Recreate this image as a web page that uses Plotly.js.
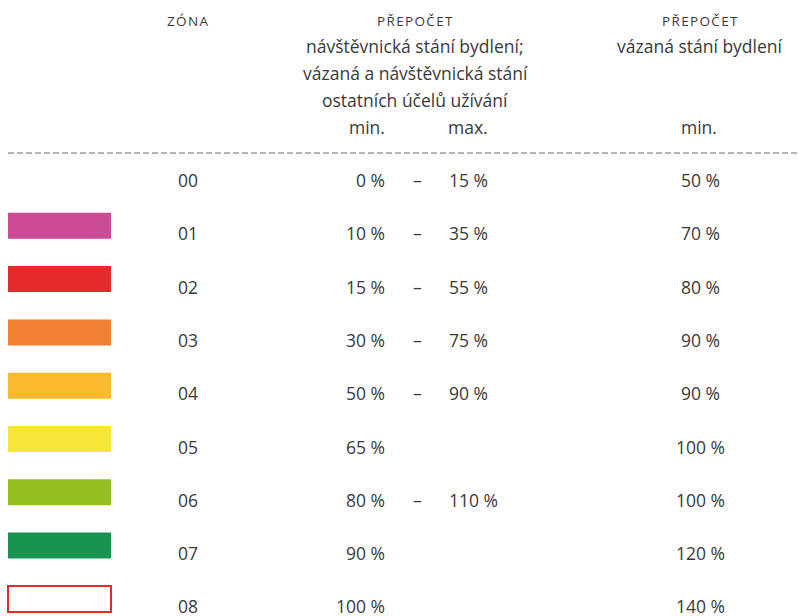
<!DOCTYPE html>
<html>
<head>
<meta charset="utf-8">
<script src="https://cdn.plot.ly/plotly-3.0.1.min.js"></script>
<style>html,body{margin:0;padding:0;background:#fff;}#chart{width:798px;height:616px;}</style>
</head>
<body>
<div id="chart"></div>
<script>
// ---- data ----
const zones = ['00','01','02','03','04','05','06','07','08'];
const minPct = [0, 10, 15, 30, 50, 65, 80, 90, 100];
const maxPct = [15, 35, 55, 75, 90, null, 110, null, null];
const boundMinPct = [50, 70, 80, 90, 90, 100, 100, 120, 140];
const zoneColors = [null, '#CB4B95', '#E52A2A', '#F18030', '#FBBA2D', '#F5E637', '#93C020', '#179550', '#FFFFFF'];
const zoneOutline = [null, null, null, null, null, null, null, null, '#E52A2A'];
const headerZone = 'ZÓNA';
const headerVisit = ['PŘEPOČET', 'návštěvnická stání bydlení;', 'vázaná a návštěvnická stání', 'ostatních účelů užívání'];
const headerBound = ['PŘEPOČET', 'vázaná stání bydlení'];
const subMin = 'min.';
const subMax = 'max.';

// ---- layout helpers ----
const FONT = '"Open Sans", "DejaVu Sans", sans-serif';
const TXT = '#3a3a3a';
const rowY = i => 180 + 53.3 * i;
const swatchY = i => rowY(i) - 7.5;
const fmt = v => v + '\u00a0%';

const idx = zones.map((_, i) => i);
const sw = idx.filter(i => zoneColors[i]);

const traces = [{
  type: 'bar', orientation: 'h',
  y: sw.map(swatchY), x: sw.map(() => 103), base: sw.map(() => 8),
  width: sw.map(() => 26),
  marker: {
    color: sw.map(i => zoneColors[i]),
    line: { color: sw.map(i => zoneOutline[i] || 'rgba(0,0,0,0)'), width: sw.map(i => zoneOutline[i] ? 2 : 0) }
  },
  hoverinfo: 'skip', showlegend: false
}];

const ann = [];
const A = (x, y, text, xanchor, size, extra) => ann.push(Object.assign({
  x, y, text, xref: 'x', yref: 'y', xanchor: xanchor, yanchor: 'middle',
  showarrow: false, font: { family: FONT, size: size, color: TXT }
}, extra || {}));

// headers
const spaced = s => s.split('').join('\u200a');
A(187, 21, spaced(headerZone), 'center', 13.5);
A(415, 21, spaced(headerVisit[0]), 'center', 13.5);
A(415, 46, headerVisit[1], 'center', 17.5);
A(415, 73, headerVisit[2], 'center', 17.5);
A(415, 100, headerVisit[3], 'center', 17.5);
A(367, 127, subMin, 'center', 17.5);
A(468, 127, subMax, 'center', 17.5);
A(700, 21, spaced(headerBound[0]), 'center', 13.5);
A(700, 46, headerBound[1], 'center', 17.5);
A(699, 127, subMin, 'center', 17.5);

// rows
const rowOpts = { height: 18 };
idx.forEach(i => {
  const y = rowY(i);
  A(188, y, zones[i], 'center', 17.5, rowOpts);
  A(387, y, fmt(minPct[i]), 'right', 17.5, rowOpts);
  if (maxPct[i] !== null) {
    A(417, y, '–', 'center', 17.5, rowOpts);
    A(447, y, fmt(maxPct[i]), 'left', 17.5, rowOpts);
  }
  A(700, y, fmt(boundMinPct[i]), 'center', 17.5, rowOpts);
});

const layout = {
  width: 798, height: 616,
  margin: { l: 0, r: 0, t: 0, b: 0, pad: 0 },
  paper_bgcolor: '#fff', plot_bgcolor: '#fff',
  xaxis: { range: [0, 798], visible: false, fixedrange: true },
  yaxis: { range: [616, 0], visible: false, fixedrange: true },
  annotations: ann,
  shapes: [{
    type: 'line', xref: 'x', yref: 'y', x0: 8, x1: 798, y0: 153, y1: 153,
    line: { color: '#6a6a6a', width: 1, dash: '6px,3px' }
  }],
  bargap: 0
};

Plotly.newPlot('chart', traces, layout, { staticPlot: true, displayModeBar: false });
</script>
</body>
</html>
